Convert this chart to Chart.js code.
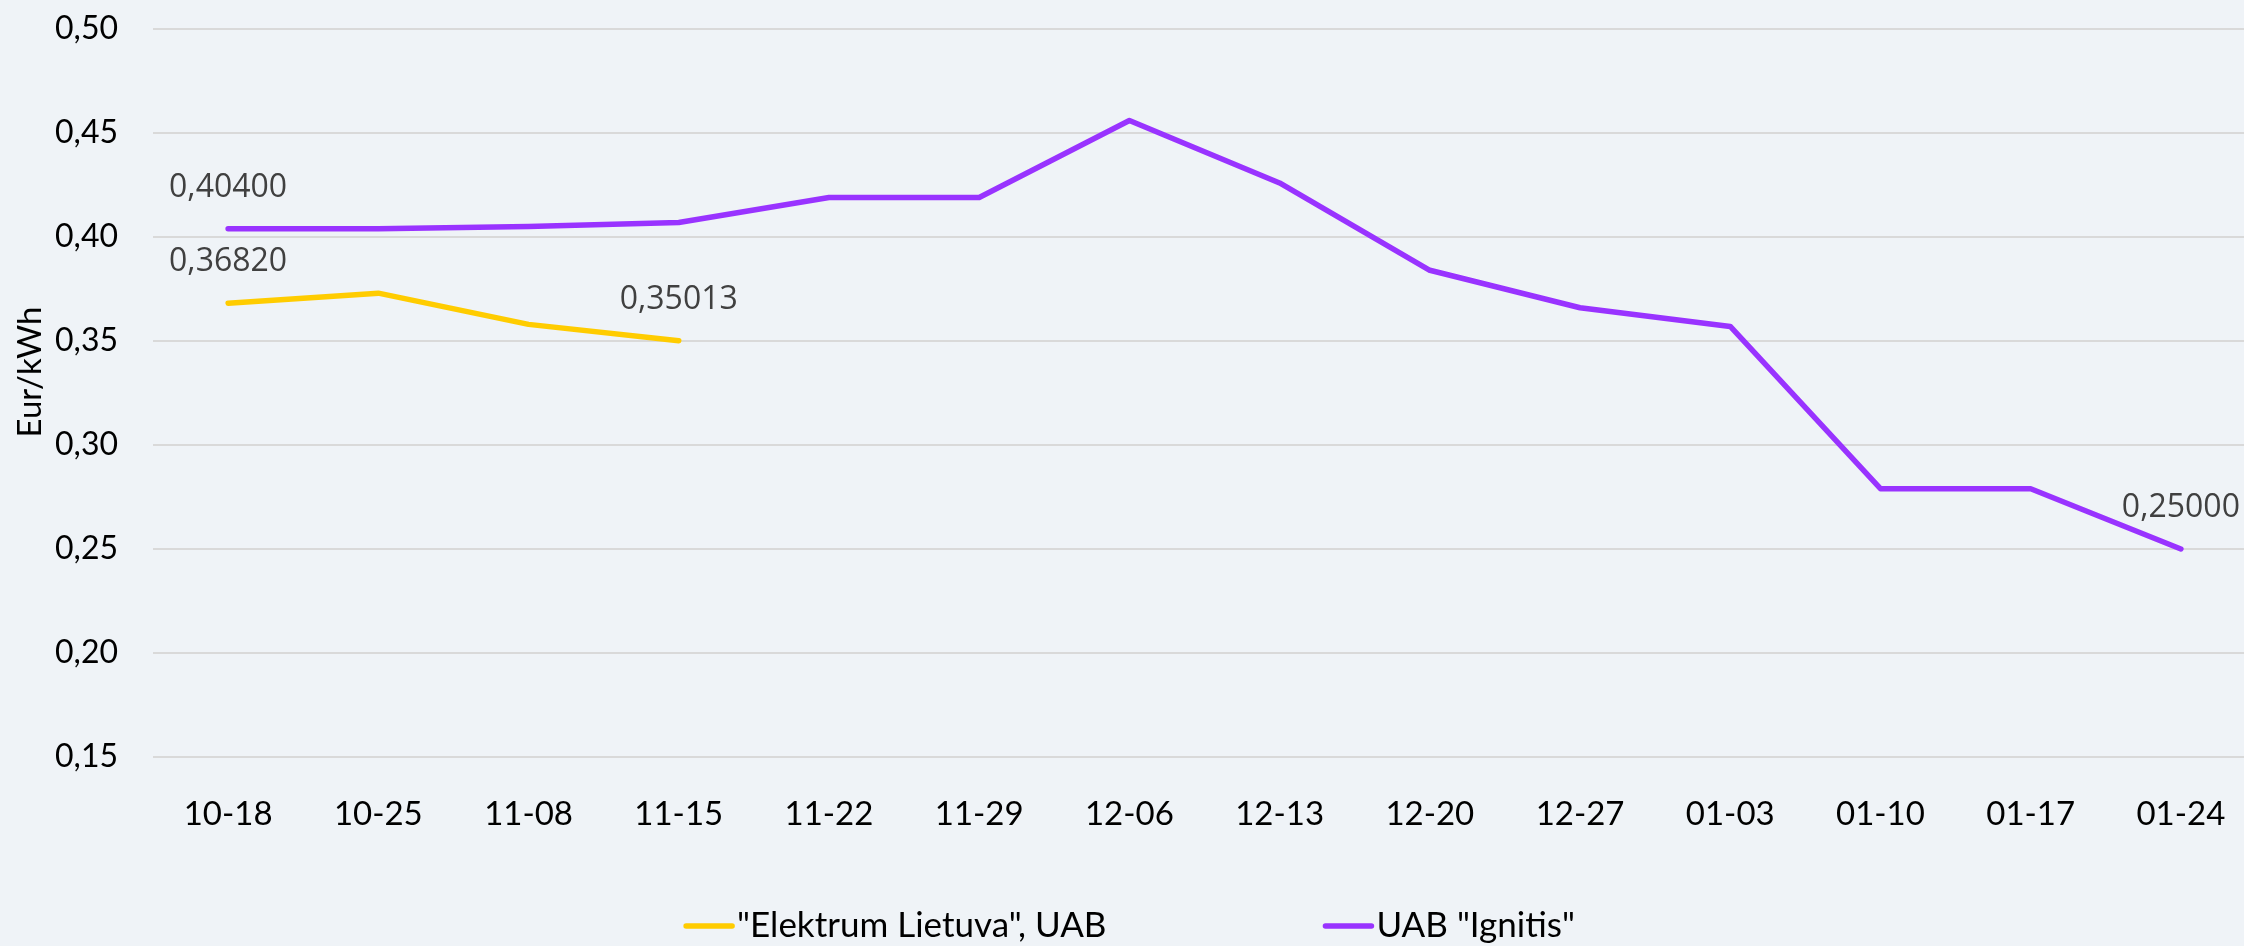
<!DOCTYPE html>
<html>
<head>
<meta charset="utf-8">
<script src="https://cdn.jsdelivr.net/npm/chart.js@4.4.1/dist/chart.umd.min.js"></script>
<style>
    html, body { margin: 0; padding: 0; background: #eff3f7; overflow: hidden; }
    #wrap { width: 2258px; height: 946px; }
</style>
</head>
<body>
<div id="wrap"><canvas id="chartPrices" width="2258" height="946"></canvas></div>
<script>
const weeks = ["10-18", "10-25", "11-08", "11-15", "11-22", "11-29", "12-06", "12-13", "12-20", "12-27", "01-03", "01-10", "01-17", "01-24"];
const elektrum = [0.3682, 0.373, 0.358, 0.35013, null, null, null, null, null, null, null, null, null, null];
const ignitis = [0.404, 0.404, 0.405, 0.407, 0.419, 0.419, 0.456, 0.426, 0.384, 0.366, 0.357, 0.279, 0.279, 0.25];
const seriesNames = ['"Elektrum Lietuva", UAB', 'UAB "Ignitis"'];
const seriesColors = ["#ffcc00", "#9933ff"];
const yMin = 0.15;
const yMax = 0.5;
const yStep = 0.05;
const axisTitle = "Eur/kWh";

const formatValue = (v, digits) => Number(v).toFixed(digits).replace(".", ",");

// value labels drawn above selected points
const pointLabels = {
    id: "pointLabels",
    afterDatasetsDraw(chart, args, opts) {
        const { ctx } = chart;
        ctx.save();
        ctx.font = '32px "Open Sans"';
        ctx.fillStyle = "#404040";
        ctx.textAlign = "center";
        ctx.textBaseline = "middle";
        opts.items.forEach(({ dataset, index }) => {
            const pt = chart.getDatasetMeta(dataset).data[index];
            const value = chart.data.datasets[dataset].data[index];
            ctx.fillText(formatValue(value, 5), pt.x, pt.y - 41);
        });
        ctx.restore();
    },
};

// rotated y axis title, placed like the Excel original (a bit above centre)
const sideTitle = {
    id: "sideTitle",
    afterDraw(chart, args, opts) {
        const { ctx } = chart;
        ctx.save();
        ctx.font = "33px Lato";
        ctx.fillStyle = "#000";
        ctx.textAlign = "center";
        ctx.textBaseline = "middle";
        ctx.translate(opts.x, opts.y);
        ctx.rotate(-Math.PI / 2);
        ctx.fillText(opts.text, 0, 0);
        ctx.restore();
    },
};

// Excel-like legend: short line sample, tight text, wide spacing
const bottomLegend = {
    id: "bottomLegend",
    afterDraw(chart, args, opts) {
        const { ctx } = chart;
        ctx.save();
        ctx.font = "35px Lato";
        ctx.textBaseline = "middle";
        ctx.fillStyle = "#000";
        const sample = 52;
        const gap = 2;
        const widths = chart.data.datasets.map((ds) => sample + gap + ctx.measureText(ds.label).width);
        const total = widths.reduce((a, b) => a + b, 0) + opts.spacing * (widths.length - 1);
        let x = chart.width / 2 - total / 2;
        const y = chart.height - opts.bottom;
        chart.data.datasets.forEach((ds, i) => {
            ctx.strokeStyle = ds.borderColor;
            ctx.lineWidth = 5.5;
            ctx.lineCap = "round";
            ctx.beginPath();
            ctx.moveTo(x + 3, y);
            ctx.lineTo(x + sample - 3, y);
            ctx.stroke();
            ctx.fillText(ds.label, x + sample + gap, y);
            x += widths[i] + opts.spacing;
        });
        ctx.restore();
    },
};

document.addEventListener("DOMContentLoaded", () => {
    const ctx = document.getElementById("chartPrices");
    new Chart(ctx, {
        type: "line",
        data: {
            labels: weeks,
            datasets: [
                {
                    label: seriesNames[0],
                    data: elektrum,
                    borderColor: seriesColors[0],
                    backgroundColor: seriesColors[0],
                    borderWidth: 5.5,
                    borderCapStyle: "round",
                    borderJoinStyle: "round",
                    pointRadius: 0,
                    tension: 0,
                },
                {
                    label: seriesNames[1],
                    data: ignitis,
                    borderColor: seriesColors[1],
                    backgroundColor: seriesColors[1],
                    borderWidth: 5.5,
                    borderCapStyle: "round",
                    borderJoinStyle: "round",
                    pointRadius: 0,
                    tension: 0,
                },
            ],
        },
        options: {
            responsive: false,
            animation: false,
            layout: { padding: { top: 29, right: 2, left: 0, bottom: 109 } },
            plugins: {
                legend: { display: false },
                tooltip: { enabled: false },
                pointLabels: {
                    items: [
                        { dataset: 0, index: 0 },
                        { dataset: 0, index: 3 },
                        { dataset: 1, index: 0 },
                        { dataset: 1, index: 13 },
                    ],
                },
                sideTitle: { text: axisTitle, x: 30, y: 372 },
                bottomLegend: { spacing: 216, bottom: 20 },
            },
            scales: {
                x: {
                    offset: true,
                    grid: { display: false },
                    border: { display: false },
                    ticks: {
                        color: "#000",
                        font: { family: "Lato", size: 33 },
                        padding: 30,
                        maxRotation: 0,
                        autoSkip: false,
                    },
                    afterFit: (scale) => { scale.height = 80; },
                },
                y: {
                    min: yMin,
                    max: yMax,
                    grid: { color: "#d9d9d9", lineWidth: 2, drawTicks: false },
                    border: { display: false },
                    ticks: {
                        stepSize: yStep,
                        color: "#000",
                        font: { family: "Lato", size: 32 },
                        padding: 35,
                        callback: (v) => formatValue(v, 2),
                    },
                    afterFit: (scale) => {
                        scale.width = 153;
                        scale.paddingTop = 0;
                        scale.paddingBottom = 0;
                    },
                },
            },
        },
        plugins: [pointLabels, sideTitle, bottomLegend],
    });
});
</script>
</body>
</html>
